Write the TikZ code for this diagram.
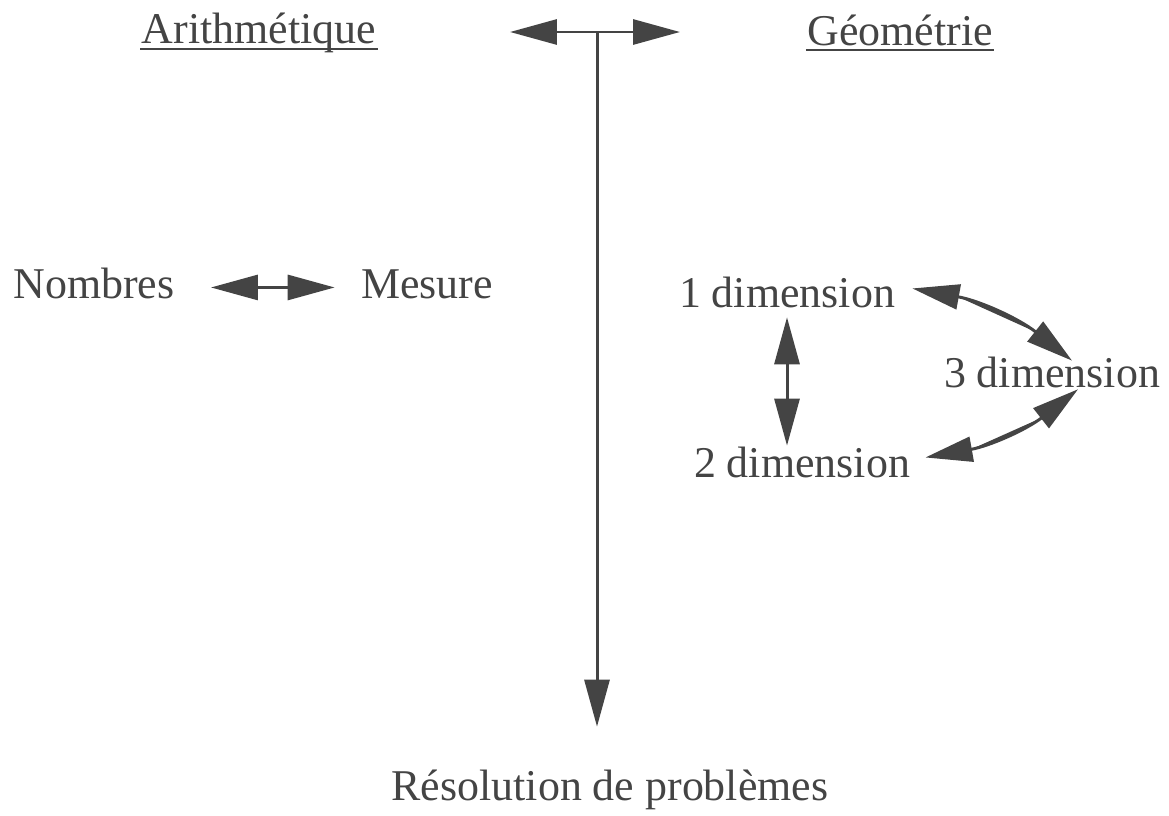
\documentclass[tikz,border=0pt]{standalone}
\usepackage{fontspec}
\setmainfont{Liberation Serif}
\usepackage{xcolor}
\usetikzlibrary{arrows.meta}

\definecolor{ink}{HTML}{444444}

\begin{document}
\begin{tikzpicture}[
    x=0.02cm, y=-0.02cm,
    line width=1.7pt,
    draw=ink,
    lbl/.style={anchor=base, inner sep=0pt, text=ink, text height=17pt, text depth=5pt, font=\fontsize{25}{30}\selectfont},
    dbl/.style={{Triangle[length=0.94cm, width=0.5cm]}-{Triangle[length=0.94cm, width=0.5cm]}, fill=ink},
    one/.style={-{Triangle[length=0.94cm, width=0.5cm]}, fill=ink},
    uline/.style={line width=1.1pt}
]
\useasboundingbox (0,0) rectangle (1169,815);

% Nodes
\node (arith) [lbl] at (259,43) {Arithmétique};
\node (geom) [lbl] at (900,45) {Géométrie};
\node (nombres) [lbl] at (94,298) {Nombres};
\node (mesure) [lbl] at (427,298) {Mesure};
\node (dim1) [lbl] at (787,307) {1 dimension};
\node (dim2) [lbl] at (802,477) {2 dimension};
\node (dim3) [lbl] at (1052,387) {3 dimension};
\node (resol) [lbl] at (610,800) {Résolution de problèmes};

\coordinate (top) at (597,32);
\coordinate (topl) at (510,32);
\coordinate (topr) at (680,32);

% Underlines
\draw[uline] ([shift={(0,6)}]arith.base west) -- ([shift={(0,6)}]arith.base east);
\draw[uline] ([shift={(0,5)}]geom.base west) -- ([shift={(0,5)}]geom.base east);

% Arrows
\draw[one] (top) -- (topl);
\draw[one] (top) -- (topr);
\draw[one, shorten >=0.84cm] (top) -- (top |- resol.north);
\draw[dbl, shorten <=0.7cm, shorten >=0.5cm] (nombres.east) -- (nombres.east -| mesure.west);
\draw[dbl] (dim1.south) -- (dim1.south |- dim2.north);
\draw[dbl] ([shift={(16,-8)}]dim1.east) to[bend left=14] ([shift={(20,5)}]dim3.north);
\draw[dbl] ([shift={(14,-9)}]dim2.east) to[bend right=14] ([shift={(26,-8)}]dim3.south);

\end{tikzpicture}
\end{document}
